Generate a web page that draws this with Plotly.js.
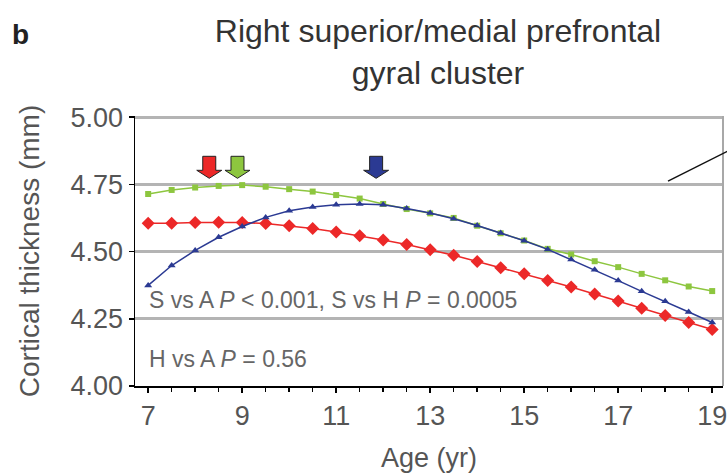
<!DOCTYPE html>
<html><head><meta charset="utf-8">
<script src="https://cdn.plot.ly/plotly-3.0.1.min.js"></script>
<style>html,body{margin:0;padding:0;background:#fff}#chart{width:727px;height:476px}</style>
</head><body><div id="chart"></div>
<script>
// Age (years)
const ages = [7,7.5,8,8.5,9,9.5,10,10.5,11,11.5,12,12.5,13,13.5,14,14.5,15,15.5,16,16.5,17,17.5,18,18.5,19];
// Cortical thickness (mm) per intelligence group
const superiorThk = [4.374,4.448,4.504,4.553,4.593,4.627,4.652,4.666,4.674,4.677,4.674,4.660,4.643,4.622,4.597,4.569,4.540,4.508,4.470,4.432,4.392,4.352,4.315,4.275,4.236];
const highThk     = [4.714,4.729,4.738,4.744,4.747,4.741,4.732,4.723,4.710,4.697,4.677,4.658,4.642,4.625,4.596,4.568,4.541,4.510,4.489,4.464,4.442,4.417,4.393,4.370,4.353];
const averageThk  = [4.605,4.605,4.608,4.609,4.608,4.604,4.596,4.586,4.573,4.559,4.543,4.526,4.507,4.486,4.463,4.440,4.417,4.392,4.368,4.342,4.316,4.289,4.262,4.236,4.210];
// Age of peak thickness (arrows)
const peakAverage = 8.3;
const peakHigh = 8.9;
const peakSuperior = 11.85;
const yTickVals = [4.00,4.25,4.50,4.75,5.00];
const xTickVals = [7,9,11,13,15,17,19];
const statText1 = 'S vs A <i>P</i> &lt; 0.001, S vs H <i>P</i> = 0.0005';
const statText2 = 'H vs A <i>P</i> = 0.56';

const RED = '#ec2828', GREEN = '#8dc63f', BLUE = '#2b3a93';
const FONT = 'Liberation Sans, Arial, sans-serif';
const GREY = '#555555';

const traces = [
  {x: ages, y: highThk, name: 'High', mode: 'lines+markers',
   line: {color: GREEN, width: 1.5}, marker: {symbol: 'square', size: 6, color: GREEN}},
  {x: ages, y: averageThk, name: 'Average', mode: 'lines+markers',
   line: {color: RED, width: 1.5}, marker: {symbol: 'diamond', size: 10, color: RED}},
  {x: ages, y: superiorThk, name: 'Superior', mode: 'lines+markers',
   line: {color: BLUE, width: 1.5}, marker: {symbol: 'triangle-up', size: 7, color: BLUE}}
];

function arrow(age, color) {
  return {type: 'path', xref: 'x', yref: 'y', xsizemode: 'pixel', ysizemode: 'pixel',
    xanchor: age, yanchor: 4.75,
    path: 'M-6.5,28 L6.5,28 L6.5,14 L12.5,14 L0,6 L-12.5,14 L-6.5,14 Z',
    fillcolor: color, line: {color: '#222', width: 1}, layer: 'above'};
}

const layout = {
  width: 727, height: 476,
  margin: {l: 135, r: 4, t: 116, b: 90},
  paper_bgcolor: '#fff', plot_bgcolor: '#fff',
  showlegend: false,
  font: {family: FONT, color: GREY},
  title: {text: 'Right superior/medial prefrontal<br>gyral cluster',
    font: {size: 32, color: '#333', family: FONT},
    x: 438/727, xanchor: 'center', xref: 'container',
    y: 1 - 42/476, yanchor: 'top', yref: 'container'},
  xaxis: {range: [6.72, 19.23], tickmode: 'array', tickvals: xTickVals,
    ticks: 'outside', ticklen: 5, tickcolor: '#000', tickwidth: 1.5,
    ticklabeloverflow: 'allow',
    minor: {tickmode: 'linear', tick0: 7, dtick: 0.5, ticks: 'outside', ticklen: 4, tickcolor: '#000', showgrid: false},
    showline: true, linecolor: '#000', linewidth: 1.5, showgrid: false, zeroline: false,
    tickfont: {size: 27, color: GREY, family: FONT},
    title: {text: 'Age (yr)', font: {size: 27, color: GREY, family: FONT}, standoff: 18}},
  yaxis: {range: [4, 5.004], tickmode: 'array', tickvals: yTickVals, tickformat: '.2f',
    ticks: 'outside', ticklen: 5, tickcolor: '#000', tickwidth: 1.5,
    showline: true, linecolor: '#000', linewidth: 1.5,
    showgrid: true, gridcolor: '#b4b4b4', gridwidth: 3, zeroline: false,
    tickfont: {size: 27, color: GREY, family: FONT},
    title: {text: 'Cortical thickness (mm)', font: {size: 28, color: GREY, family: FONT}, standoff: 22}},
  shapes: [
    {type: 'line', xref: 'paper', yref: 'paper', x0: 1, x1: 1, y0: 0, y1: 1,
     line: {color: '#a8a8a8', width: 2}},
    {type: 'line', xref: 'paper', yref: 'paper', x0: 0.9065, y0: 0.759, x1: 1.029, y1: 0.8926,
     line: {color: '#111', width: 1.5}},
    arrow(peakAverage, RED), arrow(peakHigh, GREEN), arrow(peakSuperior, BLUE)
  ],
  annotations: [
    {text: statText1, x: 6.98, y: 4.32, xref: 'x', yref: 'y', xanchor: 'left', yanchor: 'middle',
     showarrow: false, font: {size: 23, color: '#666', family: FONT}},
    {text: statText2, x: 6.98, y: 4.10, xref: 'x', yref: 'y', xanchor: 'left', yanchor: 'middle',
     showarrow: false, font: {size: 23, color: '#666', family: FONT}},
    {text: '<b>b</b>', xref: 'paper', yref: 'paper', x: (10-135)/588, y: (386-35)/270,
     xanchor: 'left', yanchor: 'middle', showarrow: false, font: {size: 28, color: '#222', family: FONT}}
  ]
};

Plotly.newPlot('chart', traces, layout, {displayModeBar: false, staticPlot: true});
</script>
</body></html>
